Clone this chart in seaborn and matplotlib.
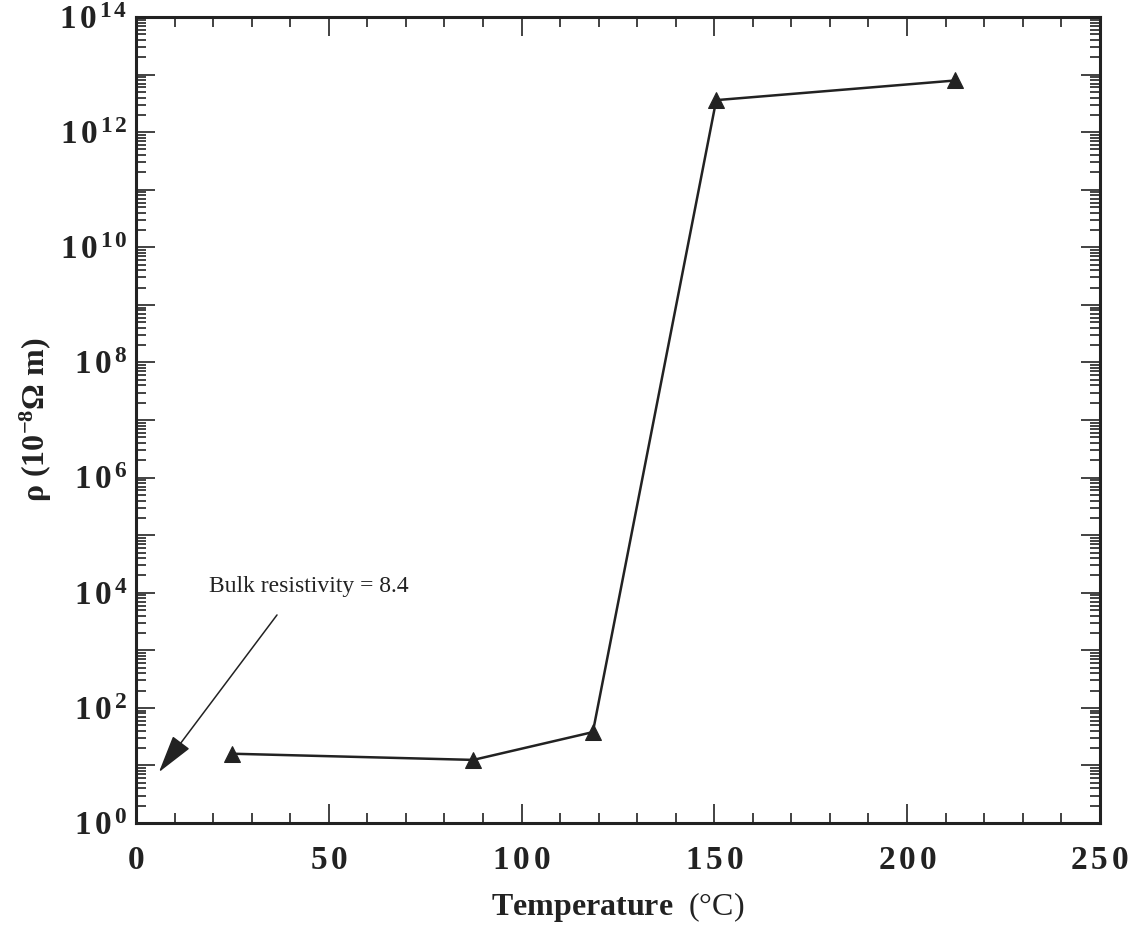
import matplotlib
matplotlib.use('Agg')
import matplotlib.pyplot as plt
import matplotlib.ticker as mticker
import numpy as np
import seaborn as sns

# data
temperature = [25, 87.5, 118.5, 150.5, 212.5]
resistivity = [16, 12.5, 38, 3.6e12, 7.9e12]
decade_labels = [0, 2, 4, 6, 8, 10, 12, 14]
bulk_text = 'Bulk resistivity = 8.4'

sns.set_theme(style='ticks')
plt.rcParams['font.family'] = ['Liberation Serif', 'DejaVu Serif']
plt.rcParams['mathtext.fontset'] = 'custom'
plt.rcParams['mathtext.rm'] = 'Liberation Serif'
plt.rcParams['mathtext.bf'] = 'Liberation Serif:bold'
plt.rcParams['mathtext.it'] = 'Liberation Serif:italic'

ink = '#222222'
fig = plt.figure(figsize=(11.28, 9.3), dpi=100)
ax = fig.add_axes([0.1206, 0.115, 0.8544, 0.8667])

sns.lineplot(x=temperature, y=resistivity, ax=ax, color=ink, linewidth=1.8,
             marker='^', markersize=12, markeredgecolor=ink, markerfacecolor=ink)

ax.set_yscale('log')
ax.set_xlim(0, 250)
ax.set_ylim(1, 1e14)

ax.xaxis.set_major_locator(mticker.MultipleLocator(50))
ax.xaxis.set_minor_locator(mticker.MultipleLocator(10))
ax.yaxis.set_major_locator(mticker.LogLocator(base=10, numticks=30))
ax.yaxis.set_minor_locator(mticker.LogLocator(base=10, subs=np.arange(2, 10), numticks=30))
ax.yaxis.set_minor_formatter(mticker.NullFormatter())


def spaced(s):
    return r'\,'.join(s)


def yfmt(v, pos):
    e = int(round(np.log10(v)))
    if e in decade_labels:
        return r'$\mathbf{1\,0^{\,%s}}$' % spaced(str(e))
    return ''


def xfmt(v, pos):
    return r'$\mathbf{%s}$' % spaced('%d' % v)


ax.yaxis.set_major_formatter(mticker.FuncFormatter(yfmt))
ax.xaxis.set_major_formatter(mticker.FuncFormatter(xfmt))

ax.tick_params(which='both', direction='in', top=True, right=True, color=ink, width=1.2)
ax.tick_params(which='major', length=14)
ax.tick_params(which='minor', length=7)
ax.tick_params(axis='x', which='major', pad=16)
ax.tick_params(axis='y', which='major', pad=6)
for lab in ax.get_xticklabels() + ax.get_yticklabels():
    lab.set_fontsize(24)
    lab.set_color(ink)

for s in ax.spines.values():
    s.set_linewidth(2.2)
    s.set_color(ink)

ax.set_xlabel(r'$\mathbf{Temperature}$  (°C)', fontsize=23, color=ink, labelpad=10)
ax.set_ylabel(r'ρ (10$^{\mathbf{-8}}$Ω m)', fontsize=23, fontweight='bold', color=ink, labelpad=4)

ax.text(19, 1.3e4, bulk_text, fontsize=17, color=ink, va='center', ha='left')
ax.annotate('', xy=(5.5, 7), xytext=(37, 4.5e3),
            arrowprops=dict(arrowstyle='-|>,head_length=0.8,head_width=0.22',
                            color=ink, lw=1.1, mutation_scale=30))

fig.savefig('out.png', dpi=100, facecolor='white')
